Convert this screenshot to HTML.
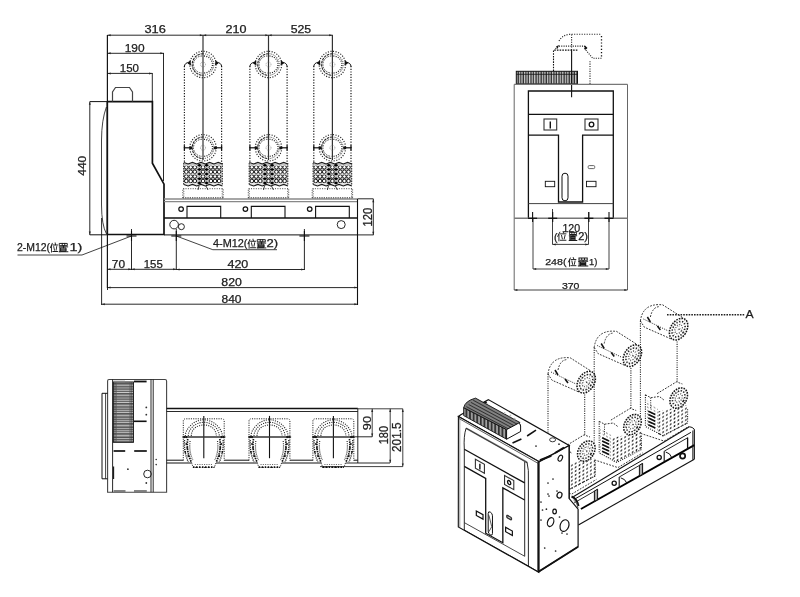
<!DOCTYPE html>
<html><head><meta charset="utf-8"><style>
html,body{margin:0;padding:0;background:#fff;}
svg{display:block;will-change:transform;}
text{font-family:"Liberation Sans",sans-serif;fill:#222;}
</style></head><body>
<svg width="800" height="597" viewBox="0 0 800 597">
<defs>
<pattern id="grid" width="4.7" height="4.5" patternUnits="userSpaceOnUse" x="0.6" y="165.6">
<circle cx="2.35" cy="2.25" r="1.8" fill="none" stroke="#222" stroke-width="0.9"/>
</pattern>
<pattern id="fins" width="2.55" height="20" patternUnits="userSpaceOnUse" x="516.3" y="0">
<rect width="2.55" height="20" fill="#7a7a7a"/><rect x="0.3" width="0.7" height="20" fill="#fff"/><rect x="1.55" width="0.75" height="20" fill="#111"/>
</pattern>
<pattern id="hfins" width="20" height="10.05" patternUnits="userSpaceOnUse" x="0" y="382">
<rect width="20" height="10.05" fill="#8a8a8a"/>
<rect y="0.4" width="20" height="0.8" fill="#fff"/><rect y="1.3" width="20" height="0.7" fill="#111"/>
<rect y="3.2" width="20" height="0.6" fill="#ddd"/><rect y="4.6" width="20" height="0.8" fill="#111"/>
<rect y="5.5" width="20" height="0.8" fill="#fff"/><rect y="6.4" width="20" height="0.6" fill="#111"/>
<rect y="8.3" width="20" height="0.6" fill="#ccc"/><rect y="9.3" width="20" height="0.5" fill="#333"/>
</pattern>
<pattern id="dots" width="3.8" height="3.8" patternUnits="userSpaceOnUse" patternTransform="skewY(-28)">
<ellipse cx="1.9" cy="1.9" rx="0.9" ry="1.05" fill="#1a1a1a"/>
</pattern>
<pattern id="dots2" width="3.4" height="3.4" patternUnits="userSpaceOnUse" patternTransform="skewY(28)">
<circle cx="1.7" cy="1.7" r="0.7" fill="#444"/>
</pattern>
<pattern id="isotop" width="40" height="1.7" patternUnits="userSpaceOnUse" patternTransform="rotate(28.5)">
<rect width="40" height="1.7" fill="#555"/><rect y="0.2" width="40" height="0.6" fill="#111"/><rect y="1.1" width="40" height="0.35" fill="#999"/>
</pattern>
<pattern id="isofins" width="3.6" height="40" patternUnits="userSpaceOnUse" x="463.7">
<rect width="3.6" height="40" fill="#555"/><rect x="0.3" width="1.3" height="40" fill="#bbb"/><rect x="2.2" width="0.9" height="40" fill="#111"/>
</pattern>
<g id="wei" fill="none" stroke="#1a1a1a" stroke-linecap="square">
<path d="M3,0.5 L0.6,5 M2,3.2 V10 M6.8,0 L7.3,1.3 M3.9,2.3 H10 M5,4 L5.9,7.8 M9,4 L8.1,7.8 M3.8,9.4 H10"/>
</g>
<g id="zhi" fill="none" stroke="#1a1a1a" stroke-linecap="square">
<path d="M0.8,0.5 H9.2 V3 H0.8 Z M3.6,0.5 V3 M6.4,0.5 V3 M0.4,4.3 H9.6 M5,3 V5.4 M2.3,5.5 H7.7 V9.3 H2.3 Z M2.3,6.8 H7.7 M2.3,8 H7.7 M0.2,9.7 H9.8 M1,5.2 V9.7"/>
</g>
<pattern id="discdots" width="2.6" height="2.6" patternUnits="userSpaceOnUse" patternTransform="rotate(30)">
<rect width="2.6" height="2.6" fill="#fff"/><circle cx="1.3" cy="1.3" r="0.5" fill="#999"/>
</pattern>
</defs>
<line x1="107.5" y1="35.2" x2="332.7" y2="35.2" stroke="#111" stroke-width="0.9" /><line x1="107.5" y1="53.3" x2="163.8" y2="53.3" stroke="#111" stroke-width="0.9" /><line x1="107.5" y1="73.4" x2="152.3" y2="73.4" stroke="#111" stroke-width="0.9" /><line x1="107.5" y1="35" x2="107.5" y2="290" stroke="#111" stroke-width="0.9" /><line x1="163.5" y1="53" x2="163.5" y2="181" stroke="#111" stroke-width="0.9" /><line x1="152.3" y1="73" x2="152.3" y2="101" stroke="#111" stroke-width="0.9" /><path d="M107.3,101.6 H152.4 V163.2 L164,184.2 V234.5 H107.3" stroke="#111" stroke-width="1.7" fill="none" /><line x1="89.8" y1="101.6" x2="107.3" y2="101.6" stroke="#111" stroke-width="1.0" /><line x1="89.8" y1="234.8" x2="107.3" y2="234.8" stroke="#111" stroke-width="1.0" /><line x1="89.8" y1="101.6" x2="89.8" y2="235" stroke="#111" stroke-width="0.9" /><line x1="107.3" y1="35" x2="107.3" y2="288" stroke="#111" stroke-width="1.0" /><line x1="107.3" y1="101.6" x2="107.3" y2="234.5" stroke="#111" stroke-width="1.7" /><path d="M112.5,101.6 V92 L115.5,87.5 H129.5 L132.5,92 V101.6" stroke="#444" stroke-width="1.2" fill="none" /><path d="M106.4,107 Q101.6,120 101.5,140 V205 Q101.6,225 106.5,234" stroke="#111" stroke-width="0.8" fill="none" /><line x1="101.6" y1="218" x2="101.6" y2="305" stroke="#111" stroke-width="0.9" /><line x1="164" y1="199" x2="357.5" y2="199" stroke="#888" stroke-width="1.3" /><line x1="164" y1="201.6" x2="357.5" y2="201.6" stroke="#888" stroke-width="1.3" /><line x1="164" y1="218" x2="357.5" y2="218" stroke="#111" stroke-width="1.3" /><line x1="164" y1="234.9" x2="357.5" y2="234.9" stroke="#111" stroke-width="1.0" /><line x1="357.5" y1="199" x2="357.5" y2="305" stroke="#111" stroke-width="1.1" /><line x1="357.5" y1="198.8" x2="373.5" y2="198.8" stroke="#111" stroke-width="0.9" /><line x1="357.5" y1="234.9" x2="373.5" y2="234.9" stroke="#111" stroke-width="0.9" /><line x1="373.3" y1="199" x2="373.3" y2="235" stroke="#111" stroke-width="0.9" /><circle cx="181.1" cy="209.1" r="2.3" stroke="#111" stroke-width="1.2" fill="none" /><path d="M187.0,218 V206.4 H220.7 V218" stroke="#111" stroke-width="1.1" fill="none" /><circle cx="245.39999999999998" cy="209.1" r="2.3" stroke="#111" stroke-width="1.2" fill="none" /><path d="M251.3,218 V206.4 H285.0 V218" stroke="#111" stroke-width="1.1" fill="none" /><circle cx="309.7" cy="209.1" r="2.3" stroke="#111" stroke-width="1.2" fill="none" /><path d="M315.6,218 V206.4 H349.29999999999995 V218" stroke="#111" stroke-width="1.1" fill="none" /><circle cx="174.1" cy="224.6" r="4.3" stroke="#111" stroke-width="0.9" fill="none" /><circle cx="181.4" cy="226.7" r="3" stroke="#111" stroke-width="0.9" fill="none" /><circle cx="341.2" cy="224.6" r="4" stroke="#111" stroke-width="0.9" fill="none" /><line x1="126.5" y1="236" x2="136.5" y2="236" stroke="#111" stroke-width="1.1" /><line x1="131.5" y1="231" x2="131.5" y2="241" stroke="#111" stroke-width="1.1" /><line x1="171.3" y1="236" x2="181.3" y2="236" stroke="#111" stroke-width="1.1" /><line x1="176.3" y1="231" x2="176.3" y2="241" stroke="#111" stroke-width="1.1" /><line x1="299.4" y1="236" x2="309.4" y2="236" stroke="#111" stroke-width="1.1" /><line x1="304.4" y1="231" x2="304.4" y2="241" stroke="#111" stroke-width="1.1" /><line x1="131.5" y1="229" x2="131.5" y2="270" stroke="#111" stroke-width="0.9" /><line x1="176.3" y1="229" x2="176.3" y2="270" stroke="#111" stroke-width="0.9" /><line x1="304.4" y1="229" x2="304.4" y2="270" stroke="#111" stroke-width="0.9" /><line x1="107.3" y1="269.3" x2="176.3" y2="269.3" stroke="#111" stroke-width="0.9" /><line x1="176.3" y1="269.5" x2="304.6" y2="269.5" stroke="#111" stroke-width="0.9" /><line x1="107.3" y1="287.6" x2="357" y2="287.6" stroke="#111" stroke-width="0.9" /><line x1="101.6" y1="304.2" x2="357.5" y2="304.2" stroke="#111" stroke-width="0.9" /><path d="M131.5,236 L82,255 H17.5" stroke="#111" stroke-width="0.8" fill="none" /><path d="M176.3,236 L212.8,249.7 H277" stroke="#111" stroke-width="0.8" fill="none" /><line x1="203" y1="35" x2="203" y2="160" stroke="#333" stroke-width="1.2" /><circle cx="203" cy="64.5" r="13.2" stroke="#222" stroke-width="1.15" fill="none" stroke-dasharray="1.1 1.5"/><path d="M203,53.7 A10.8 10.8 0 0 0 203,75.3" stroke="#222" stroke-width="1.1" fill="none" stroke-dasharray="2.5 0.8"/><path d="M203,53.7 A10.8 10.8 0 0 1 203,75.3" stroke="#333" stroke-width="1.0" fill="none" stroke-dasharray="1 1.2"/><path d="M202,56.0 A8.5 8.5 0 0 0 202,73.0" stroke="#333" stroke-width="0.9" fill="none" stroke-dasharray="1.6 1"/><path d="M204,56.0 A8.5 8.5 0 0 1 204,73.0" stroke="#222" stroke-width="1.3" fill="none" stroke-dasharray="1 1.3"/><circle cx="203" cy="64.5" r="2.5" stroke="#666" stroke-width="0.6" fill="none" stroke-dasharray="0.8 0.8"/><path d="M184.4,66.5 Q184.4,63.0 189.5,62.0" stroke="#111" stroke-width="1.0" fill="none" /><path d="M221.6,66.5 Q221.6,63.0 216.5,62.0" stroke="#111" stroke-width="1.0" fill="none" /><polygon points="187.5,63.5 190.5,60.0 191,65.5" fill="#111"/><polygon points="218.5,63.5 215.5,60.0 215,65.5" fill="#111"/><circle cx="203" cy="147.8" r="13.2" stroke="#222" stroke-width="1.15" fill="none" stroke-dasharray="1.1 1.5"/><path d="M203,137.0 A10.8 10.8 0 0 0 203,158.60000000000002" stroke="#222" stroke-width="1.1" fill="none" stroke-dasharray="2.5 0.8"/><path d="M203,137.0 A10.8 10.8 0 0 1 203,158.60000000000002" stroke="#333" stroke-width="1.0" fill="none" stroke-dasharray="1 1.2"/><path d="M202,139.3 A8.5 8.5 0 0 0 202,156.3" stroke="#333" stroke-width="0.9" fill="none" stroke-dasharray="1.6 1"/><path d="M204,139.3 A8.5 8.5 0 0 1 204,156.3" stroke="#222" stroke-width="1.3" fill="none" stroke-dasharray="1 1.3"/><circle cx="203" cy="147.8" r="2.5" stroke="#666" stroke-width="0.6" fill="none" stroke-dasharray="0.8 0.8"/><line x1="184.4" y1="147.8" x2="190.5" y2="147.8" stroke="#111" stroke-width="1.2" /><line x1="221.6" y1="147.8" x2="215.5" y2="147.8" stroke="#111" stroke-width="1.2" /><line x1="184.4" y1="145.3" x2="184.4" y2="150.3" stroke="#111" stroke-width="1.3" /><line x1="221.6" y1="145.3" x2="221.6" y2="150.3" stroke="#111" stroke-width="1.3" /><circle cx="190.7" cy="147.8" r="1.6" stroke="#111" stroke-width="0" fill="#111" /><circle cx="215.3" cy="147.8" r="1.6" stroke="#111" stroke-width="0" fill="#111" /><line x1="184.4" y1="66" x2="184.4" y2="162" stroke="#111" stroke-width="1.15" stroke-dasharray="1.2 1.5"/><line x1="221.6" y1="66" x2="221.6" y2="162" stroke="#111" stroke-width="1.15" stroke-dasharray="1.2 1.5"/><rect x="183.7" y="163.5" width="38.6" height="21" fill="#c4c4c4"/><circle cx="186.30" cy="167.3" r="1.8" fill="#fff" stroke="#111" stroke-width="1.0"/><circle cx="190.70" cy="167.3" r="1.8" fill="#fff" stroke="#111" stroke-width="1.0"/><circle cx="194.80" cy="167.3" r="1.8" fill="#fff" stroke="#111" stroke-width="1.0"/><circle cx="203.00" cy="167.3" r="1.8" fill="#fff" stroke="#111" stroke-width="1.0"/><circle cx="210.90" cy="167.3" r="1.8" fill="#fff" stroke="#111" stroke-width="1.0"/><circle cx="215.00" cy="167.3" r="1.8" fill="#fff" stroke="#111" stroke-width="1.0"/><circle cx="219.10" cy="167.3" r="1.8" fill="#fff" stroke="#111" stroke-width="1.0"/><circle cx="186.30" cy="171.8" r="1.8" fill="#fff" stroke="#111" stroke-width="1.0"/><circle cx="190.70" cy="171.8" r="1.8" fill="#fff" stroke="#111" stroke-width="1.0"/><circle cx="194.80" cy="171.8" r="1.8" fill="#fff" stroke="#111" stroke-width="1.0"/><circle cx="203.00" cy="171.8" r="1.8" fill="#fff" stroke="#111" stroke-width="1.0"/><circle cx="210.90" cy="171.8" r="1.8" fill="#fff" stroke="#111" stroke-width="1.0"/><circle cx="215.00" cy="171.8" r="1.8" fill="#fff" stroke="#111" stroke-width="1.0"/><circle cx="219.10" cy="171.8" r="1.8" fill="#fff" stroke="#111" stroke-width="1.0"/><circle cx="186.30" cy="176.5" r="1.8" fill="#fff" stroke="#111" stroke-width="1.0"/><circle cx="190.70" cy="176.5" r="1.8" fill="#fff" stroke="#111" stroke-width="1.0"/><circle cx="194.80" cy="176.5" r="1.8" fill="#fff" stroke="#111" stroke-width="1.0"/><circle cx="203.00" cy="176.5" r="1.8" fill="#fff" stroke="#111" stroke-width="1.0"/><circle cx="210.90" cy="176.5" r="1.8" fill="#fff" stroke="#111" stroke-width="1.0"/><circle cx="215.00" cy="176.5" r="1.8" fill="#fff" stroke="#111" stroke-width="1.0"/><circle cx="219.10" cy="176.5" r="1.8" fill="#fff" stroke="#111" stroke-width="1.0"/><circle cx="186.30" cy="181" r="1.8" fill="#fff" stroke="#111" stroke-width="1.0"/><circle cx="190.70" cy="181" r="1.8" fill="#fff" stroke="#111" stroke-width="1.0"/><circle cx="194.80" cy="181" r="1.8" fill="#fff" stroke="#111" stroke-width="1.0"/><circle cx="203.00" cy="181" r="1.8" fill="#fff" stroke="#111" stroke-width="1.0"/><circle cx="210.90" cy="181" r="1.8" fill="#fff" stroke="#111" stroke-width="1.0"/><circle cx="215.00" cy="181" r="1.8" fill="#fff" stroke="#111" stroke-width="1.0"/><circle cx="219.10" cy="181" r="1.8" fill="#fff" stroke="#111" stroke-width="1.0"/><line x1="183.7" y1="165.6" x2="222.3" y2="165.6" stroke="#fff" stroke-width="0.7" /><line x1="183.7" y1="174.1" x2="222.3" y2="174.1" stroke="#fff" stroke-width="0.7" /><line x1="183.7" y1="183.4" x2="222.3" y2="183.4" stroke="#fff" stroke-width="0.7" /><path d="M183.80,162.39999999999998 188.10,164.0 192.40,162.39999999999998 196.70,164.0 201.00,162.39999999999998 205.30,164.0 209.60,162.39999999999998 213.90,164.0 218.20,162.39999999999998 222.50,164.0" stroke="#1a1a1a" stroke-width="1.1" fill="none" /><path d="M183.80,184.39999999999998 188.10,186.0 192.40,184.39999999999998 196.70,186.0 201.00,184.39999999999998 205.30,186.0 209.60,184.39999999999998 213.90,186.0 218.20,184.39999999999998 222.50,186.0" stroke="#1a1a1a" stroke-width="1.1" fill="none" /><polygon points="197.00,165.2 199.40,163.7 201.80,165.2 199.40,166.7" fill="#000"/><polygon points="204.20,165.2 206.60,163.7 209.00,165.2 206.60,166.7" fill="#000"/><polygon points="197.00,169.5 199.40,168.0 201.80,169.5 199.40,171.0" fill="#000"/><polygon points="204.20,169.5 206.60,168.0 209.00,169.5 206.60,171.0" fill="#000"/><polygon points="197.00,174.1 199.40,172.6 201.80,174.1 199.40,175.6" fill="#000"/><polygon points="204.20,174.1 206.60,172.6 209.00,174.1 206.60,175.6" fill="#000"/><polygon points="197.00,178.8 199.40,177.3 201.80,178.8 199.40,180.3" fill="#000"/><polygon points="204.20,178.8 206.60,177.3 209.00,178.8 206.60,180.3" fill="#000"/><polygon points="197.00,183.1 199.40,181.6 201.80,183.1 199.40,184.6" fill="#000"/><polygon points="204.20,183.1 206.60,181.6 209.00,183.1 206.60,184.6" fill="#000"/><line x1="183.7" y1="163" x2="183.7" y2="185.5" stroke="#222" stroke-width="1.0" stroke-dasharray="1.5 1"/><line x1="222.3" y1="163" x2="222.3" y2="185.5" stroke="#222" stroke-width="1.0" stroke-dasharray="1.5 1"/><path d="M182.8,198 V188.7 H223.2 V198" stroke="#333" stroke-width="0.9" fill="none" stroke-dasharray="1 1.4"/><line x1="183.8" y1="188.5" x2="183.8" y2="198" stroke="#444" stroke-width="0.9" stroke-dasharray="1 1.4"/><line x1="222.2" y1="188.5" x2="222.2" y2="198" stroke="#444" stroke-width="0.9" stroke-dasharray="1 1.4"/><path d="M199,186 L198,190" stroke="#111" stroke-width="0.8" fill="none" /><path d="M206,186 L208,190" stroke="#111" stroke-width="0.8" fill="none" /><line x1="182.8" y1="197.8" x2="223.2" y2="197.8" stroke="#333" stroke-width="1.0" stroke-dasharray="1.3 1"/><line x1="268.5" y1="35" x2="268.5" y2="160" stroke="#333" stroke-width="1.2" /><circle cx="268.5" cy="64.5" r="13.2" stroke="#222" stroke-width="1.15" fill="none" stroke-dasharray="1.1 1.5"/><path d="M268.5,53.7 A10.8 10.8 0 0 0 268.5,75.3" stroke="#222" stroke-width="1.1" fill="none" stroke-dasharray="2.5 0.8"/><path d="M268.5,53.7 A10.8 10.8 0 0 1 268.5,75.3" stroke="#333" stroke-width="1.0" fill="none" stroke-dasharray="1 1.2"/><path d="M267.5,56.0 A8.5 8.5 0 0 0 267.5,73.0" stroke="#333" stroke-width="0.9" fill="none" stroke-dasharray="1.6 1"/><path d="M269.5,56.0 A8.5 8.5 0 0 1 269.5,73.0" stroke="#222" stroke-width="1.3" fill="none" stroke-dasharray="1 1.3"/><circle cx="268.5" cy="64.5" r="2.5" stroke="#666" stroke-width="0.6" fill="none" stroke-dasharray="0.8 0.8"/><path d="M249.9,66.5 Q249.9,63.0 255.0,62.0" stroke="#111" stroke-width="1.0" fill="none" /><path d="M287.1,66.5 Q287.1,63.0 282.0,62.0" stroke="#111" stroke-width="1.0" fill="none" /><polygon points="253.0,63.5 256.0,60.0 256.5,65.5" fill="#111"/><polygon points="284.0,63.5 281.0,60.0 280.5,65.5" fill="#111"/><circle cx="268.5" cy="147.8" r="13.2" stroke="#222" stroke-width="1.15" fill="none" stroke-dasharray="1.1 1.5"/><path d="M268.5,137.0 A10.8 10.8 0 0 0 268.5,158.60000000000002" stroke="#222" stroke-width="1.1" fill="none" stroke-dasharray="2.5 0.8"/><path d="M268.5,137.0 A10.8 10.8 0 0 1 268.5,158.60000000000002" stroke="#333" stroke-width="1.0" fill="none" stroke-dasharray="1 1.2"/><path d="M267.5,139.3 A8.5 8.5 0 0 0 267.5,156.3" stroke="#333" stroke-width="0.9" fill="none" stroke-dasharray="1.6 1"/><path d="M269.5,139.3 A8.5 8.5 0 0 1 269.5,156.3" stroke="#222" stroke-width="1.3" fill="none" stroke-dasharray="1 1.3"/><circle cx="268.5" cy="147.8" r="2.5" stroke="#666" stroke-width="0.6" fill="none" stroke-dasharray="0.8 0.8"/><line x1="249.9" y1="147.8" x2="256.0" y2="147.8" stroke="#111" stroke-width="1.2" /><line x1="287.1" y1="147.8" x2="281.0" y2="147.8" stroke="#111" stroke-width="1.2" /><line x1="249.9" y1="145.3" x2="249.9" y2="150.3" stroke="#111" stroke-width="1.3" /><line x1="287.1" y1="145.3" x2="287.1" y2="150.3" stroke="#111" stroke-width="1.3" /><circle cx="256.2" cy="147.8" r="1.6" stroke="#111" stroke-width="0" fill="#111" /><circle cx="280.8" cy="147.8" r="1.6" stroke="#111" stroke-width="0" fill="#111" /><line x1="249.9" y1="66" x2="249.9" y2="162" stroke="#111" stroke-width="1.15" stroke-dasharray="1.2 1.5"/><line x1="287.1" y1="66" x2="287.1" y2="162" stroke="#111" stroke-width="1.15" stroke-dasharray="1.2 1.5"/><rect x="249.2" y="163.5" width="38.6" height="21" fill="#c4c4c4"/><circle cx="251.80" cy="167.3" r="1.8" fill="#fff" stroke="#111" stroke-width="1.0"/><circle cx="256.20" cy="167.3" r="1.8" fill="#fff" stroke="#111" stroke-width="1.0"/><circle cx="260.30" cy="167.3" r="1.8" fill="#fff" stroke="#111" stroke-width="1.0"/><circle cx="268.50" cy="167.3" r="1.8" fill="#fff" stroke="#111" stroke-width="1.0"/><circle cx="276.40" cy="167.3" r="1.8" fill="#fff" stroke="#111" stroke-width="1.0"/><circle cx="280.50" cy="167.3" r="1.8" fill="#fff" stroke="#111" stroke-width="1.0"/><circle cx="284.60" cy="167.3" r="1.8" fill="#fff" stroke="#111" stroke-width="1.0"/><circle cx="251.80" cy="171.8" r="1.8" fill="#fff" stroke="#111" stroke-width="1.0"/><circle cx="256.20" cy="171.8" r="1.8" fill="#fff" stroke="#111" stroke-width="1.0"/><circle cx="260.30" cy="171.8" r="1.8" fill="#fff" stroke="#111" stroke-width="1.0"/><circle cx="268.50" cy="171.8" r="1.8" fill="#fff" stroke="#111" stroke-width="1.0"/><circle cx="276.40" cy="171.8" r="1.8" fill="#fff" stroke="#111" stroke-width="1.0"/><circle cx="280.50" cy="171.8" r="1.8" fill="#fff" stroke="#111" stroke-width="1.0"/><circle cx="284.60" cy="171.8" r="1.8" fill="#fff" stroke="#111" stroke-width="1.0"/><circle cx="251.80" cy="176.5" r="1.8" fill="#fff" stroke="#111" stroke-width="1.0"/><circle cx="256.20" cy="176.5" r="1.8" fill="#fff" stroke="#111" stroke-width="1.0"/><circle cx="260.30" cy="176.5" r="1.8" fill="#fff" stroke="#111" stroke-width="1.0"/><circle cx="268.50" cy="176.5" r="1.8" fill="#fff" stroke="#111" stroke-width="1.0"/><circle cx="276.40" cy="176.5" r="1.8" fill="#fff" stroke="#111" stroke-width="1.0"/><circle cx="280.50" cy="176.5" r="1.8" fill="#fff" stroke="#111" stroke-width="1.0"/><circle cx="284.60" cy="176.5" r="1.8" fill="#fff" stroke="#111" stroke-width="1.0"/><circle cx="251.80" cy="181" r="1.8" fill="#fff" stroke="#111" stroke-width="1.0"/><circle cx="256.20" cy="181" r="1.8" fill="#fff" stroke="#111" stroke-width="1.0"/><circle cx="260.30" cy="181" r="1.8" fill="#fff" stroke="#111" stroke-width="1.0"/><circle cx="268.50" cy="181" r="1.8" fill="#fff" stroke="#111" stroke-width="1.0"/><circle cx="276.40" cy="181" r="1.8" fill="#fff" stroke="#111" stroke-width="1.0"/><circle cx="280.50" cy="181" r="1.8" fill="#fff" stroke="#111" stroke-width="1.0"/><circle cx="284.60" cy="181" r="1.8" fill="#fff" stroke="#111" stroke-width="1.0"/><line x1="249.2" y1="165.6" x2="287.8" y2="165.6" stroke="#fff" stroke-width="0.7" /><line x1="249.2" y1="174.1" x2="287.8" y2="174.1" stroke="#fff" stroke-width="0.7" /><line x1="249.2" y1="183.4" x2="287.8" y2="183.4" stroke="#fff" stroke-width="0.7" /><path d="M249.30,162.39999999999998 253.60,164.0 257.90,162.39999999999998 262.20,164.0 266.50,162.39999999999998 270.80,164.0 275.10,162.39999999999998 279.40,164.0 283.70,162.39999999999998 288.00,164.0" stroke="#1a1a1a" stroke-width="1.1" fill="none" /><path d="M249.30,184.39999999999998 253.60,186.0 257.90,184.39999999999998 262.20,186.0 266.50,184.39999999999998 270.80,186.0 275.10,184.39999999999998 279.40,186.0 283.70,184.39999999999998 288.00,186.0" stroke="#1a1a1a" stroke-width="1.1" fill="none" /><polygon points="262.50,165.2 264.90,163.7 267.30,165.2 264.90,166.7" fill="#000"/><polygon points="269.70,165.2 272.10,163.7 274.50,165.2 272.10,166.7" fill="#000"/><polygon points="262.50,169.5 264.90,168.0 267.30,169.5 264.90,171.0" fill="#000"/><polygon points="269.70,169.5 272.10,168.0 274.50,169.5 272.10,171.0" fill="#000"/><polygon points="262.50,174.1 264.90,172.6 267.30,174.1 264.90,175.6" fill="#000"/><polygon points="269.70,174.1 272.10,172.6 274.50,174.1 272.10,175.6" fill="#000"/><polygon points="262.50,178.8 264.90,177.3 267.30,178.8 264.90,180.3" fill="#000"/><polygon points="269.70,178.8 272.10,177.3 274.50,178.8 272.10,180.3" fill="#000"/><polygon points="262.50,183.1 264.90,181.6 267.30,183.1 264.90,184.6" fill="#000"/><polygon points="269.70,183.1 272.10,181.6 274.50,183.1 272.10,184.6" fill="#000"/><line x1="249.2" y1="163" x2="249.2" y2="185.5" stroke="#222" stroke-width="1.0" stroke-dasharray="1.5 1"/><line x1="287.8" y1="163" x2="287.8" y2="185.5" stroke="#222" stroke-width="1.0" stroke-dasharray="1.5 1"/><path d="M248.3,198 V188.7 H288.7 V198" stroke="#333" stroke-width="0.9" fill="none" stroke-dasharray="1 1.4"/><line x1="249.3" y1="188.5" x2="249.3" y2="198" stroke="#444" stroke-width="0.9" stroke-dasharray="1 1.4"/><line x1="287.7" y1="188.5" x2="287.7" y2="198" stroke="#444" stroke-width="0.9" stroke-dasharray="1 1.4"/><path d="M264.5,186 L263.5,190" stroke="#111" stroke-width="0.8" fill="none" /><path d="M271.5,186 L273.5,190" stroke="#111" stroke-width="0.8" fill="none" /><line x1="248.3" y1="197.8" x2="288.7" y2="197.8" stroke="#333" stroke-width="1.0" stroke-dasharray="1.3 1"/><line x1="332.4" y1="35" x2="332.4" y2="160" stroke="#333" stroke-width="1.2" /><circle cx="332.4" cy="64.5" r="13.2" stroke="#222" stroke-width="1.15" fill="none" stroke-dasharray="1.1 1.5"/><path d="M332.4,53.7 A10.8 10.8 0 0 0 332.4,75.3" stroke="#222" stroke-width="1.1" fill="none" stroke-dasharray="2.5 0.8"/><path d="M332.4,53.7 A10.8 10.8 0 0 1 332.4,75.3" stroke="#333" stroke-width="1.0" fill="none" stroke-dasharray="1 1.2"/><path d="M331.4,56.0 A8.5 8.5 0 0 0 331.4,73.0" stroke="#333" stroke-width="0.9" fill="none" stroke-dasharray="1.6 1"/><path d="M333.4,56.0 A8.5 8.5 0 0 1 333.4,73.0" stroke="#222" stroke-width="1.3" fill="none" stroke-dasharray="1 1.3"/><circle cx="332.4" cy="64.5" r="2.5" stroke="#666" stroke-width="0.6" fill="none" stroke-dasharray="0.8 0.8"/><path d="M313.79999999999995,66.5 Q313.79999999999995,63.0 318.9,62.0" stroke="#111" stroke-width="1.0" fill="none" /><path d="M351.0,66.5 Q351.0,63.0 345.9,62.0" stroke="#111" stroke-width="1.0" fill="none" /><polygon points="316.9,63.5 319.9,60.0 320.4,65.5" fill="#111"/><polygon points="347.9,63.5 344.9,60.0 344.4,65.5" fill="#111"/><circle cx="332.4" cy="147.8" r="13.2" stroke="#222" stroke-width="1.15" fill="none" stroke-dasharray="1.1 1.5"/><path d="M332.4,137.0 A10.8 10.8 0 0 0 332.4,158.60000000000002" stroke="#222" stroke-width="1.1" fill="none" stroke-dasharray="2.5 0.8"/><path d="M332.4,137.0 A10.8 10.8 0 0 1 332.4,158.60000000000002" stroke="#333" stroke-width="1.0" fill="none" stroke-dasharray="1 1.2"/><path d="M331.4,139.3 A8.5 8.5 0 0 0 331.4,156.3" stroke="#333" stroke-width="0.9" fill="none" stroke-dasharray="1.6 1"/><path d="M333.4,139.3 A8.5 8.5 0 0 1 333.4,156.3" stroke="#222" stroke-width="1.3" fill="none" stroke-dasharray="1 1.3"/><circle cx="332.4" cy="147.8" r="2.5" stroke="#666" stroke-width="0.6" fill="none" stroke-dasharray="0.8 0.8"/><line x1="313.79999999999995" y1="147.8" x2="319.9" y2="147.8" stroke="#111" stroke-width="1.2" /><line x1="351.0" y1="147.8" x2="344.9" y2="147.8" stroke="#111" stroke-width="1.2" /><line x1="313.79999999999995" y1="145.3" x2="313.79999999999995" y2="150.3" stroke="#111" stroke-width="1.3" /><line x1="351.0" y1="145.3" x2="351.0" y2="150.3" stroke="#111" stroke-width="1.3" /><circle cx="320.09999999999997" cy="147.8" r="1.6" stroke="#111" stroke-width="0" fill="#111" /><circle cx="344.7" cy="147.8" r="1.6" stroke="#111" stroke-width="0" fill="#111" /><line x1="313.79999999999995" y1="66" x2="313.79999999999995" y2="162" stroke="#111" stroke-width="1.15" stroke-dasharray="1.2 1.5"/><line x1="351.0" y1="66" x2="351.0" y2="162" stroke="#111" stroke-width="1.15" stroke-dasharray="1.2 1.5"/><rect x="313.09999999999997" y="163.5" width="38.6" height="21" fill="#c4c4c4"/><circle cx="315.70" cy="167.3" r="1.8" fill="#fff" stroke="#111" stroke-width="1.0"/><circle cx="320.10" cy="167.3" r="1.8" fill="#fff" stroke="#111" stroke-width="1.0"/><circle cx="324.20" cy="167.3" r="1.8" fill="#fff" stroke="#111" stroke-width="1.0"/><circle cx="332.40" cy="167.3" r="1.8" fill="#fff" stroke="#111" stroke-width="1.0"/><circle cx="340.30" cy="167.3" r="1.8" fill="#fff" stroke="#111" stroke-width="1.0"/><circle cx="344.40" cy="167.3" r="1.8" fill="#fff" stroke="#111" stroke-width="1.0"/><circle cx="348.50" cy="167.3" r="1.8" fill="#fff" stroke="#111" stroke-width="1.0"/><circle cx="315.70" cy="171.8" r="1.8" fill="#fff" stroke="#111" stroke-width="1.0"/><circle cx="320.10" cy="171.8" r="1.8" fill="#fff" stroke="#111" stroke-width="1.0"/><circle cx="324.20" cy="171.8" r="1.8" fill="#fff" stroke="#111" stroke-width="1.0"/><circle cx="332.40" cy="171.8" r="1.8" fill="#fff" stroke="#111" stroke-width="1.0"/><circle cx="340.30" cy="171.8" r="1.8" fill="#fff" stroke="#111" stroke-width="1.0"/><circle cx="344.40" cy="171.8" r="1.8" fill="#fff" stroke="#111" stroke-width="1.0"/><circle cx="348.50" cy="171.8" r="1.8" fill="#fff" stroke="#111" stroke-width="1.0"/><circle cx="315.70" cy="176.5" r="1.8" fill="#fff" stroke="#111" stroke-width="1.0"/><circle cx="320.10" cy="176.5" r="1.8" fill="#fff" stroke="#111" stroke-width="1.0"/><circle cx="324.20" cy="176.5" r="1.8" fill="#fff" stroke="#111" stroke-width="1.0"/><circle cx="332.40" cy="176.5" r="1.8" fill="#fff" stroke="#111" stroke-width="1.0"/><circle cx="340.30" cy="176.5" r="1.8" fill="#fff" stroke="#111" stroke-width="1.0"/><circle cx="344.40" cy="176.5" r="1.8" fill="#fff" stroke="#111" stroke-width="1.0"/><circle cx="348.50" cy="176.5" r="1.8" fill="#fff" stroke="#111" stroke-width="1.0"/><circle cx="315.70" cy="181" r="1.8" fill="#fff" stroke="#111" stroke-width="1.0"/><circle cx="320.10" cy="181" r="1.8" fill="#fff" stroke="#111" stroke-width="1.0"/><circle cx="324.20" cy="181" r="1.8" fill="#fff" stroke="#111" stroke-width="1.0"/><circle cx="332.40" cy="181" r="1.8" fill="#fff" stroke="#111" stroke-width="1.0"/><circle cx="340.30" cy="181" r="1.8" fill="#fff" stroke="#111" stroke-width="1.0"/><circle cx="344.40" cy="181" r="1.8" fill="#fff" stroke="#111" stroke-width="1.0"/><circle cx="348.50" cy="181" r="1.8" fill="#fff" stroke="#111" stroke-width="1.0"/><line x1="313.09999999999997" y1="165.6" x2="351.7" y2="165.6" stroke="#fff" stroke-width="0.7" /><line x1="313.09999999999997" y1="174.1" x2="351.7" y2="174.1" stroke="#fff" stroke-width="0.7" /><line x1="313.09999999999997" y1="183.4" x2="351.7" y2="183.4" stroke="#fff" stroke-width="0.7" /><path d="M313.20,162.39999999999998 317.50,164.0 321.80,162.39999999999998 326.10,164.0 330.40,162.39999999999998 334.70,164.0 339.00,162.39999999999998 343.30,164.0 347.60,162.39999999999998 351.90,164.0" stroke="#1a1a1a" stroke-width="1.1" fill="none" /><path d="M313.20,184.39999999999998 317.50,186.0 321.80,184.39999999999998 326.10,186.0 330.40,184.39999999999998 334.70,186.0 339.00,184.39999999999998 343.30,186.0 347.60,184.39999999999998 351.90,186.0" stroke="#1a1a1a" stroke-width="1.1" fill="none" /><polygon points="326.40,165.2 328.80,163.7 331.20,165.2 328.80,166.7" fill="#000"/><polygon points="333.60,165.2 336.00,163.7 338.40,165.2 336.00,166.7" fill="#000"/><polygon points="326.40,169.5 328.80,168.0 331.20,169.5 328.80,171.0" fill="#000"/><polygon points="333.60,169.5 336.00,168.0 338.40,169.5 336.00,171.0" fill="#000"/><polygon points="326.40,174.1 328.80,172.6 331.20,174.1 328.80,175.6" fill="#000"/><polygon points="333.60,174.1 336.00,172.6 338.40,174.1 336.00,175.6" fill="#000"/><polygon points="326.40,178.8 328.80,177.3 331.20,178.8 328.80,180.3" fill="#000"/><polygon points="333.60,178.8 336.00,177.3 338.40,178.8 336.00,180.3" fill="#000"/><polygon points="326.40,183.1 328.80,181.6 331.20,183.1 328.80,184.6" fill="#000"/><polygon points="333.60,183.1 336.00,181.6 338.40,183.1 336.00,184.6" fill="#000"/><line x1="313.09999999999997" y1="163" x2="313.09999999999997" y2="185.5" stroke="#222" stroke-width="1.0" stroke-dasharray="1.5 1"/><line x1="351.7" y1="163" x2="351.7" y2="185.5" stroke="#222" stroke-width="1.0" stroke-dasharray="1.5 1"/><path d="M312.2,198 V188.7 H352.59999999999997 V198" stroke="#333" stroke-width="0.9" fill="none" stroke-dasharray="1 1.4"/><line x1="313.2" y1="188.5" x2="313.2" y2="198" stroke="#444" stroke-width="0.9" stroke-dasharray="1 1.4"/><line x1="351.59999999999997" y1="188.5" x2="351.59999999999997" y2="198" stroke="#444" stroke-width="0.9" stroke-dasharray="1 1.4"/><path d="M328.4,186 L327.4,190" stroke="#111" stroke-width="0.8" fill="none" /><path d="M335.4,186 L337.4,190" stroke="#111" stroke-width="0.8" fill="none" /><line x1="312.2" y1="197.8" x2="352.59999999999997" y2="197.8" stroke="#333" stroke-width="1.0" stroke-dasharray="1.3 1"/><rect x="516.3" y="71.3" width="61.2" height="12.6" stroke="#111" stroke-width="1.0" fill="url(#fins)" /><line x1="516.3" y1="74.3" x2="577.5" y2="74.3" stroke="#111" stroke-width="0.8" /><path d="M553.5,71 V50.1 H578" stroke="#111" stroke-width="1.1" fill="none" stroke-dasharray="1.6 1.1"/><path d="M555.5,49 L558.5,46.1 H584 L586.5,48.5" stroke="#222" stroke-width="1.1" fill="none" stroke-dasharray="1.1 1.2"/><path d="M559,41 Q562,35 570,34.3 H601.5" stroke="#222" stroke-width="1.1" fill="none" stroke-dasharray="1.1 1.4"/><path d="M601.5,58.2 H592.7 L584.2,48.1" stroke="#222" stroke-width="1.1" fill="none" stroke-dasharray="1.1 1.2"/><polygon points="584.5,45 587.5,48 585,50" fill="#111"/><polygon points="556,46.5 559,45 557.5,49" fill="#111"/><line x1="601.5" y1="36" x2="601.5" y2="58" stroke="#111" stroke-width="1.3" stroke-dasharray="1.2 2"/><line x1="590" y1="61.2" x2="590" y2="84" stroke="#222" stroke-width="1.1" stroke-dasharray="1.1 1.3"/><line x1="571.6" y1="34.5" x2="571.6" y2="50" stroke="#222" stroke-width="1.1" stroke-dasharray="1.1 1.3"/><line x1="571.6" y1="50" x2="571.6" y2="97.3" stroke="#111" stroke-width="1.1" /><line x1="514.2" y1="84.4" x2="627.5" y2="84.4" stroke="#777" stroke-width="1.1" /><line x1="514.2" y1="84.4" x2="514.2" y2="290" stroke="#666" stroke-width="1.0" /><line x1="627.5" y1="84.4" x2="627.5" y2="290" stroke="#666" stroke-width="1.0" /><path d="M528.4,218 V91 H613.3 V218" stroke="#111" stroke-width="1.3" fill="none" /><line x1="528.4" y1="114.4" x2="613.3" y2="114.4" stroke="#111" stroke-width="1.3" /><path d="M528.4,135.2 H558.5 V202 H582.6 V135.2 H613.3" stroke="#111" stroke-width="1.3" fill="none" /><line x1="528.4" y1="203.6" x2="613.3" y2="203.6" stroke="#444" stroke-width="1.0" /><line x1="514.2" y1="218.3" x2="627.5" y2="218.3" stroke="#777" stroke-width="1.4" /><rect x="544" y="119" width="12.7" height="11" stroke="#333" stroke-width="1.1" fill="none" /><line x1="550.3" y1="121.5" x2="550.3" y2="128.5" stroke="#111" stroke-width="1.4" /><rect x="585" y="119" width="13" height="11" stroke="#333" stroke-width="1.1" fill="none" /><circle cx="591.5" cy="124.5" r="2.3" stroke="#111" stroke-width="1.3" fill="none" /><rect x="562" y="173.2" width="6" height="27.6" stroke="#111" stroke-width="1.0" fill="none" rx="3"/><rect x="545.3" y="181.3" width="9.4" height="5.4" stroke="#111" stroke-width="0.9" fill="none" /><rect x="586.5" y="181.3" width="9.5" height="5.4" stroke="#111" stroke-width="0.9" fill="none" /><rect x="588.2" y="165.6" width="6.5" height="3" stroke="#555" stroke-width="0.9" fill="none" rx="1"/><line x1="528.1" y1="218.3" x2="537.1" y2="218.3" stroke="#111" stroke-width="1.3" /><line x1="532.6" y1="212" x2="532.6" y2="222" stroke="#111" stroke-width="1.1" /><line x1="548.2" y1="218.3" x2="557.2" y2="218.3" stroke="#111" stroke-width="1.3" /><line x1="552.7" y1="212" x2="552.7" y2="222" stroke="#111" stroke-width="1.1" /><line x1="584.4" y1="218.3" x2="593.4" y2="218.3" stroke="#111" stroke-width="1.3" /><line x1="588.9" y1="212" x2="588.9" y2="222" stroke="#111" stroke-width="1.1" /><line x1="604.5" y1="218.3" x2="613.5" y2="218.3" stroke="#111" stroke-width="1.3" /><line x1="609" y1="212" x2="609" y2="222" stroke="#111" stroke-width="1.1" /><line x1="533" y1="218" x2="533" y2="269" stroke="#111" stroke-width="0.8" /><line x1="609" y1="218" x2="609" y2="269" stroke="#111" stroke-width="0.8" /><line x1="552.5" y1="209" x2="552.5" y2="244.5" stroke="#111" stroke-width="0.8" /><line x1="588.5" y1="212" x2="588.5" y2="244.5" stroke="#111" stroke-width="0.8" /><line x1="552.5" y1="244.4" x2="588.5" y2="244.4" stroke="#111" stroke-width="0.8" /><line x1="533" y1="269" x2="609" y2="269" stroke="#111" stroke-width="0.8" /><line x1="514.2" y1="290" x2="627.5" y2="290" stroke="#111" stroke-width="0.8" /><path d="M107.6,492.2 V381 Q107.6,379.5 109,379.5 H165 Q166.6,379.5 166.6,381 V492.2 Z" stroke="#444" stroke-width="1.1" fill="none" /><path d="M107.6,393.3 H102 V478.8 H107.6" stroke="#111" stroke-width="1.0" fill="none" /><line x1="105.6" y1="393.3" x2="105.6" y2="478.8" stroke="#111" stroke-width="0.8" /><line x1="112.6" y1="379.5" x2="112.6" y2="492.2" stroke="#111" stroke-width="0.9" /><line x1="151" y1="379.5" x2="151" y2="492.2" stroke="#111" stroke-width="0.9" /><line x1="153.2" y1="379.5" x2="153.2" y2="492.2" stroke="#111" stroke-width="0.9" /><rect x="113.3" y="382" width="20.1" height="60.3" stroke="#111" stroke-width="1.0" fill="url(#hfins)" /><line x1="115" y1="382" x2="115" y2="442" stroke="#333" stroke-width="0.6" /><line x1="116.5" y1="382" x2="116.5" y2="442" stroke="#555" stroke-width="0.5" /><line x1="131.2" y1="382" x2="131.2" y2="442" stroke="#333" stroke-width="0.6" /><line x1="129.8" y1="382" x2="129.8" y2="442" stroke="#555" stroke-width="0.5" /><line x1="113.5" y1="381.5" x2="125" y2="381.5" stroke="#888" stroke-width="1.6" /><line x1="134" y1="381.5" x2="146.6" y2="381.5" stroke="#111" stroke-width="1.8" /><line x1="134" y1="421.3" x2="146.6" y2="421.3" stroke="#111" stroke-width="1.6" /><line x1="113.6" y1="451" x2="125.2" y2="451" stroke="#111" stroke-width="1.7" /><line x1="134.2" y1="451" x2="146.8" y2="451" stroke="#111" stroke-width="1.7" /><line x1="113.6" y1="491" x2="125.5" y2="491" stroke="#777" stroke-width="1.8" /><line x1="134" y1="491" x2="146.8" y2="491" stroke="#777" stroke-width="1.8" /><circle cx="146.3" cy="407.4" r="0.9" stroke="#111" stroke-width="0" fill="#333" /><circle cx="146.3" cy="414.7" r="0.9" stroke="#111" stroke-width="0" fill="#333" /><circle cx="156.2" cy="459.5" r="0.8" stroke="#111" stroke-width="0" fill="#333" /><circle cx="156.2" cy="464.6" r="0.8" stroke="#111" stroke-width="0" fill="#333" /><circle cx="127.9" cy="469.2" r="0.9" stroke="#111" stroke-width="0" fill="#333" /><circle cx="146.3" cy="483" r="0.9" stroke="#111" stroke-width="0" fill="#333" /><circle cx="147.5" cy="474" r="3.8" stroke="#111" stroke-width="0.9" fill="none" /><line x1="113.6" y1="466.5" x2="113.6" y2="479" stroke="#111" stroke-width="1.1" /><line x1="166.6" y1="408.5" x2="357.8" y2="408.5" stroke="#111" stroke-width="1.3" /><line x1="166.6" y1="411.5" x2="357.8" y2="411.5" stroke="#111" stroke-width="0.9" /><line x1="357.8" y1="408.5" x2="357.8" y2="463" stroke="#111" stroke-width="0.9" /><line x1="203.8" y1="415.9" x2="203.8" y2="458.2" stroke="#111" stroke-width="1.1" /><line x1="182.4" y1="437.1" x2="225.4" y2="437.1" stroke="#333" stroke-width="1.5" /><circle cx="184.3" cy="437.1" r="1.1" stroke="#111" stroke-width="0" fill="#111" /><circle cx="186.3" cy="437.1" r="1.1" stroke="#111" stroke-width="0" fill="#111" /><circle cx="221.5" cy="437.1" r="1.1" stroke="#111" stroke-width="0" fill="#111" /><circle cx="223.5" cy="437.1" r="1.1" stroke="#111" stroke-width="0" fill="#111" /><path d="M183.3,460.5 V421 Q183.3,418.8 185.8,418.8 H221.8 Q224.20000000000002,418.8 224.20000000000002,421 V460.5" stroke="#222" stroke-width="1.0" fill="none" stroke-dasharray="1.1 1.2"/><path d="M185.30,436 C185.30,429 193.62,419.80 203.80,419.80 C213.98,419.80 222.30,429 222.30,436" stroke="#222" stroke-width="1.05" fill="none" stroke-dasharray="1.1 1.2"/><path d="M188.30,436 C188.30,429 195.28,422.30 203.80,422.30 C212.33,422.30 219.30,429 219.30,436" stroke="#222" stroke-width="1.05" fill="none" stroke-dasharray="1.1 1.2"/><path d="M191.30,436 C191.30,429 196.93,425.00 203.80,425.00 C210.68,425.00 216.30,429 216.30,436" stroke="#222" stroke-width="1.05" fill="none" stroke-dasharray="1.1 1.2"/><path d="M187.8,439 Q185.8,450 191.3,462" stroke="#111" stroke-width="1.7" fill="none" stroke-dasharray="1.5 0.9"/><path d="M184.5,440 Q183.8,452 188.3,462" stroke="#222" stroke-width="1.4" fill="none" stroke-dasharray="1.2 1"/><path d="M190.10000000000002,441 Q188.8,452 192.8,460" stroke="#333" stroke-width="1.2" fill="none" stroke-dasharray="1 1.1"/><circle cx="186.3" cy="444" r="0.9" stroke="#111" stroke-width="0" fill="#111" /><circle cx="187.3" cy="448" r="0.9" stroke="#111" stroke-width="0" fill="#111" /><circle cx="185.3" cy="452" r="0.9" stroke="#111" stroke-width="0" fill="#111" /><circle cx="188.3" cy="456" r="0.9" stroke="#111" stroke-width="0" fill="#111" /><path d="M219.8,439 Q221.8,450 216.3,462" stroke="#111" stroke-width="1.7" fill="none" stroke-dasharray="1.5 0.9"/><path d="M223.10000000000002,440 Q223.8,452 219.3,462" stroke="#222" stroke-width="1.4" fill="none" stroke-dasharray="1.2 1"/><path d="M217.5,441 Q218.8,452 214.8,460" stroke="#333" stroke-width="1.2" fill="none" stroke-dasharray="1 1.1"/><circle cx="221.3" cy="444" r="0.9" stroke="#111" stroke-width="0" fill="#111" /><circle cx="220.3" cy="448" r="0.9" stroke="#111" stroke-width="0" fill="#111" /><circle cx="222.3" cy="452" r="0.9" stroke="#111" stroke-width="0" fill="#111" /><circle cx="219.3" cy="456" r="0.9" stroke="#111" stroke-width="0" fill="#111" /><path d="M191.60000000000002,462.5 L193.0,467.4 H214.4 L216.0,462.5" stroke="#222" stroke-width="1.0" fill="none" stroke-dasharray="1.1 1.2"/><line x1="193.0" y1="467.2" x2="214.4" y2="467.2" stroke="#111" stroke-width="1.8" stroke-dasharray="1.5 1.5"/><line x1="194.8" y1="464.5" x2="212.8" y2="464.5" stroke="#444" stroke-width="0.8" stroke-dasharray="1.1 1.2"/><line x1="269.5" y1="415.9" x2="269.5" y2="458.2" stroke="#111" stroke-width="1.1" /><line x1="248.1" y1="437.1" x2="291.1" y2="437.1" stroke="#333" stroke-width="1.5" /><circle cx="250.0" cy="437.1" r="1.1" stroke="#111" stroke-width="0" fill="#111" /><circle cx="252.0" cy="437.1" r="1.1" stroke="#111" stroke-width="0" fill="#111" /><circle cx="287.2" cy="437.1" r="1.1" stroke="#111" stroke-width="0" fill="#111" /><circle cx="289.2" cy="437.1" r="1.1" stroke="#111" stroke-width="0" fill="#111" /><path d="M249.0,460.5 V421 Q249.0,418.8 251.5,418.8 H287.5 Q289.9,418.8 289.9,421 V460.5" stroke="#222" stroke-width="1.0" fill="none" stroke-dasharray="1.1 1.2"/><path d="M251.00,436 C251.00,429 259.32,419.80 269.50,419.80 C279.68,419.80 288.00,429 288.00,436" stroke="#222" stroke-width="1.05" fill="none" stroke-dasharray="1.1 1.2"/><path d="M254.00,436 C254.00,429 260.98,422.30 269.50,422.30 C278.02,422.30 285.00,429 285.00,436" stroke="#222" stroke-width="1.05" fill="none" stroke-dasharray="1.1 1.2"/><path d="M257.00,436 C257.00,429 262.62,425.00 269.50,425.00 C276.38,425.00 282.00,429 282.00,436" stroke="#222" stroke-width="1.05" fill="none" stroke-dasharray="1.1 1.2"/><path d="M253.5,439 Q251.5,450 257.0,462" stroke="#111" stroke-width="1.7" fill="none" stroke-dasharray="1.5 0.9"/><path d="M250.2,440 Q249.5,452 254.0,462" stroke="#222" stroke-width="1.4" fill="none" stroke-dasharray="1.2 1"/><path d="M255.8,441 Q254.5,452 258.5,460" stroke="#333" stroke-width="1.2" fill="none" stroke-dasharray="1 1.1"/><circle cx="252.0" cy="444" r="0.9" stroke="#111" stroke-width="0" fill="#111" /><circle cx="253.0" cy="448" r="0.9" stroke="#111" stroke-width="0" fill="#111" /><circle cx="251.0" cy="452" r="0.9" stroke="#111" stroke-width="0" fill="#111" /><circle cx="254.0" cy="456" r="0.9" stroke="#111" stroke-width="0" fill="#111" /><path d="M285.5,439 Q287.5,450 282.0,462" stroke="#111" stroke-width="1.7" fill="none" stroke-dasharray="1.5 0.9"/><path d="M288.8,440 Q289.5,452 285.0,462" stroke="#222" stroke-width="1.4" fill="none" stroke-dasharray="1.2 1"/><path d="M283.2,441 Q284.5,452 280.5,460" stroke="#333" stroke-width="1.2" fill="none" stroke-dasharray="1 1.1"/><circle cx="287.0" cy="444" r="0.9" stroke="#111" stroke-width="0" fill="#111" /><circle cx="286.0" cy="448" r="0.9" stroke="#111" stroke-width="0" fill="#111" /><circle cx="288.0" cy="452" r="0.9" stroke="#111" stroke-width="0" fill="#111" /><circle cx="285.0" cy="456" r="0.9" stroke="#111" stroke-width="0" fill="#111" /><path d="M257.3,462.5 L258.7,467.4 H280.1 L281.7,462.5" stroke="#222" stroke-width="1.0" fill="none" stroke-dasharray="1.1 1.2"/><line x1="258.7" y1="467.2" x2="280.1" y2="467.2" stroke="#111" stroke-width="1.8" stroke-dasharray="1.5 1.5"/><line x1="260.5" y1="464.5" x2="278.5" y2="464.5" stroke="#444" stroke-width="0.8" stroke-dasharray="1.1 1.2"/><line x1="333.4" y1="415.9" x2="333.4" y2="458.2" stroke="#111" stroke-width="1.1" /><line x1="312.0" y1="437.1" x2="355.0" y2="437.1" stroke="#333" stroke-width="1.5" /><circle cx="313.9" cy="437.1" r="1.1" stroke="#111" stroke-width="0" fill="#111" /><circle cx="315.9" cy="437.1" r="1.1" stroke="#111" stroke-width="0" fill="#111" /><circle cx="351.09999999999997" cy="437.1" r="1.1" stroke="#111" stroke-width="0" fill="#111" /><circle cx="353.09999999999997" cy="437.1" r="1.1" stroke="#111" stroke-width="0" fill="#111" /><path d="M312.9,460.5 V421 Q312.9,418.8 315.4,418.8 H351.4 Q353.79999999999995,418.8 353.79999999999995,421 V460.5" stroke="#222" stroke-width="1.0" fill="none" stroke-dasharray="1.1 1.2"/><path d="M314.90,436 C314.90,429 323.22,419.80 333.40,419.80 C343.57,419.80 351.90,429 351.90,436" stroke="#222" stroke-width="1.05" fill="none" stroke-dasharray="1.1 1.2"/><path d="M317.90,436 C317.90,429 324.88,422.30 333.40,422.30 C341.92,422.30 348.90,429 348.90,436" stroke="#222" stroke-width="1.05" fill="none" stroke-dasharray="1.1 1.2"/><path d="M320.90,436 C320.90,429 326.52,425.00 333.40,425.00 C340.27,425.00 345.90,429 345.90,436" stroke="#222" stroke-width="1.05" fill="none" stroke-dasharray="1.1 1.2"/><path d="M317.4,439 Q315.4,450 320.9,462" stroke="#111" stroke-width="1.7" fill="none" stroke-dasharray="1.5 0.9"/><path d="M314.09999999999997,440 Q313.4,452 317.9,462" stroke="#222" stroke-width="1.4" fill="none" stroke-dasharray="1.2 1"/><path d="M319.7,441 Q318.4,452 322.4,460" stroke="#333" stroke-width="1.2" fill="none" stroke-dasharray="1 1.1"/><circle cx="315.9" cy="444" r="0.9" stroke="#111" stroke-width="0" fill="#111" /><circle cx="316.9" cy="448" r="0.9" stroke="#111" stroke-width="0" fill="#111" /><circle cx="314.9" cy="452" r="0.9" stroke="#111" stroke-width="0" fill="#111" /><circle cx="317.9" cy="456" r="0.9" stroke="#111" stroke-width="0" fill="#111" /><path d="M349.4,439 Q351.4,450 345.9,462" stroke="#111" stroke-width="1.7" fill="none" stroke-dasharray="1.5 0.9"/><path d="M352.7,440 Q353.4,452 348.9,462" stroke="#222" stroke-width="1.4" fill="none" stroke-dasharray="1.2 1"/><path d="M347.09999999999997,441 Q348.4,452 344.4,460" stroke="#333" stroke-width="1.2" fill="none" stroke-dasharray="1 1.1"/><circle cx="350.9" cy="444" r="0.9" stroke="#111" stroke-width="0" fill="#111" /><circle cx="349.9" cy="448" r="0.9" stroke="#111" stroke-width="0" fill="#111" /><circle cx="351.9" cy="452" r="0.9" stroke="#111" stroke-width="0" fill="#111" /><circle cx="348.9" cy="456" r="0.9" stroke="#111" stroke-width="0" fill="#111" /><path d="M321.2,462.5 L322.59999999999997,467.4 H344.0 L345.59999999999997,462.5" stroke="#222" stroke-width="1.0" fill="none" stroke-dasharray="1.1 1.2"/><line x1="322.59999999999997" y1="467.2" x2="344.0" y2="467.2" stroke="#111" stroke-width="1.8" stroke-dasharray="1.5 1.5"/><line x1="324.4" y1="464.5" x2="342.4" y2="464.5" stroke="#444" stroke-width="0.8" stroke-dasharray="1.1 1.2"/><line x1="166.6" y1="460.2" x2="183.3" y2="460.2" stroke="#111" stroke-width="1.0" /><line x1="166.6" y1="463" x2="191.6" y2="463" stroke="#111" stroke-width="1.0" /><line x1="224.20000000000002" y1="460.2" x2="249.0" y2="460.2" stroke="#111" stroke-width="1.0" /><line x1="216.0" y1="463" x2="257.3" y2="463" stroke="#111" stroke-width="1.0" /><line x1="289.9" y1="460.2" x2="312.9" y2="460.2" stroke="#111" stroke-width="1.0" /><line x1="281.7" y1="463" x2="321.2" y2="463" stroke="#111" stroke-width="1.0" /><line x1="353.8" y1="460.2" x2="357.8" y2="460.2" stroke="#111" stroke-width="1.0" /><line x1="345.6" y1="463" x2="390" y2="463" stroke="#111" stroke-width="0.9" /><line x1="357.8" y1="408.8" x2="402.8" y2="408.8" stroke="#111" stroke-width="0.8" /><line x1="355" y1="436.8" x2="372.2" y2="436.8" stroke="#111" stroke-width="0.9" /><line x1="372.2" y1="408.8" x2="372.2" y2="437" stroke="#111" stroke-width="0.8" /><line x1="390.2" y1="408.8" x2="390.2" y2="463" stroke="#111" stroke-width="0.8" /><line x1="320" y1="466.6" x2="402.8" y2="466.6" stroke="#111" stroke-width="0.8" /><line x1="402.8" y1="408.8" x2="402.8" y2="466.6" stroke="#111" stroke-width="0.8" /><path d="M573.3,496.8 L689.3,426.7 Q692.5,427 694.3,429.2 V459.3 L578.4,524.9 Z" stroke="#111" stroke-width="0" fill="#fff" /><line x1="573.3" y1="496.8" x2="689.3" y2="426.7" stroke="#111" stroke-width="1.1" /><line x1="575" y1="498.9" x2="691" y2="432.33" stroke="#111" stroke-width="1.0" /><line x1="580.9" y1="509.0" x2="694.3" y2="445.1" stroke="#000" stroke-width="1.8" /><line x1="578.4" y1="524.9" x2="694.3" y2="459.3" stroke="#111" stroke-width="1.1" /><path d="M689.3,426.7 Q692.5,427 694.3,429.2" stroke="#111" stroke-width="1.0" fill="none" /><line x1="692.8" y1="430.5" x2="692.8" y2="459.8" stroke="#111" stroke-width="0.9" /><line x1="694.3" y1="429.2" x2="694.3" y2="459.3" stroke="#111" stroke-width="1.2" /><line x1="574.2" y1="502.86" x2="597.6" y2="489.43" stroke="#111" stroke-width="0.9" /><polygon points="594.40,491.07 597.60,489.23 597.60,499.59 594.40,501.39" fill="#aaa" stroke="#111" stroke-width="1"/><line x1="619.2" y1="477.0362869198312" x2="619.2" y2="487.4182539682539" stroke="#111" stroke-width="1.1" /><circle cx="614.2" cy="483.2054852320675" r="2.1" stroke="#111" stroke-width="1.3" fill="none" /><path d="M620.70,477.84 Q625.20,478.84 626.70,482.89" stroke="#111" stroke-width="1.0" fill="none" /><line x1="619.2" y1="477.04" x2="642.6" y2="463.61" stroke="#111" stroke-width="0.9" /><polygon points="639.40,465.24 642.60,463.41 642.60,474.23 639.40,476.04" fill="#aaa" stroke="#111" stroke-width="1"/><line x1="664.2" y1="451.21350210970456" x2="664.2" y2="462.0611111111111" stroke="#111" stroke-width="1.1" /><circle cx="659.2" cy="457.3827004219409" r="2.1" stroke="#111" stroke-width="1.3" fill="none" /><path d="M665.70,452.01 Q670.20,453.01 671.70,457.53" stroke="#111" stroke-width="1.0" fill="none" /><line x1="664.2" y1="451.21" x2="687.6" y2="437.79" stroke="#111" stroke-width="0.9" /><line x1="687.6" y1="437.5856540084388" x2="687.6" y2="448.8753968253968" stroke="#111" stroke-width="1.3" /><circle cx="682.6" cy="456" r="2.6" stroke="#111" stroke-width="1.7" fill="none" /><path d="M571.5,496.5 Q577,498.5 578.5,506" stroke="#111" stroke-width="2.0" fill="none" /><path d="M573.5,500 Q577.5,502 578,508" stroke="#555" stroke-width="1.0" fill="none" /><polygon points="565.50,464.50 565.50,487.00 570.60,489.50 595.50,476.50 595.50,458.00" fill="url(#dots)"/><polygon points="554.00,453.00 554.00,479.00 565.50,486.00 565.50,462.00" fill="url(#dots2)"/><path d="M553.00,447.80 V479.40 L570.60,488.80 L595.20,475.90 V462.00" stroke="#222" stroke-width="1.05" fill="none" stroke-dasharray="1.1 1.2"/><path d="M548.30,486.40 L571.70,494.10 L596.40,479.40" stroke="#333" stroke-width="1.0" fill="none" stroke-dasharray="1.8 1.3"/><path d="M553.00,447.80 L558.30,450.70 L567.00,449.50 L572.30,453.60" stroke="#333" stroke-width="1.0" fill="none" stroke-dasharray="1.8 1.3"/><path d="M564.70,446.60 L584.00,434.90 L590.00,437.00" stroke="#333" stroke-width="1.0" fill="none" stroke-dasharray="1.8 1.3"/><line x1="558.3" y1="450.7" x2="558.3" y2="462.0" stroke="#333" stroke-width="1.0" stroke-dasharray="1.1 1.2"/><line x1="555.9" y1="464.2" x2="562.9" y2="467.4" stroke="#111" stroke-width="1.6" /><line x1="555.9" y1="467.59999999999997" x2="562.9" y2="470.79999999999995" stroke="#111" stroke-width="1.6" /><line x1="555.9" y1="471.0" x2="562.9" y2="474.2" stroke="#111" stroke-width="1.6" /><line x1="555.9" y1="474.4" x2="562.9" y2="477.59999999999997" stroke="#111" stroke-width="1.6" /><line x1="555.9" y1="477.8" x2="562.9" y2="481.0" stroke="#111" stroke-width="1.6" /><ellipse cx="586.30" cy="451.10" rx="7.8" ry="11" transform="rotate(32 586.30 451.10)" fill="url(#discdots)" stroke="#111" stroke-width="1.5" stroke-dasharray="1.6 1.1"/><ellipse cx="586.30" cy="451.10" rx="5.46" ry="7.92" transform="rotate(32 586.30 451.10)" fill="none" stroke="#222" stroke-width="1.5" stroke-dasharray="1.3 1.6"/><ellipse cx="586.30" cy="451.10" rx="3.12" ry="4.62" transform="rotate(32 586.30 451.10)" fill="none" stroke="#444" stroke-width="1.1" stroke-dasharray="1 1.4"/><circle cx="586.8" cy="451.1" r="0.8" stroke="#111" stroke-width="0" fill="#333" /><path d="M548.00,374.00 Q550.00,358.00 566.00,357.60 L570.20,357.80 L590.30,370.60" stroke="#333" stroke-width="1.0" fill="none" stroke-dasharray="1.8 1.3"/><path d="M558.00,370.00 Q560.00,360.00 567.00,359.60" stroke="#333" stroke-width="1.0" fill="none" stroke-dasharray="1.8 1.3"/><path d="M548.00,374.00 L552.00,380.20 L578.20,391.70" stroke="#333" stroke-width="1.0" fill="none" stroke-dasharray="1.8 1.3"/><path d="M551.00,372.00 L576.00,384.00" stroke="#333" stroke-width="1.0" fill="none" stroke-dasharray="1.1 1.2"/><line x1="555.0" y1="370.0" x2="558.0" y2="375.0" stroke="#111" stroke-width="1.5" /><line x1="565.0" y1="379.0" x2="568.0" y2="383.0" stroke="#111" stroke-width="1.5" /><ellipse cx="586.20" cy="382.20" rx="8" ry="11.8" transform="rotate(32 586.20 382.20)" fill="url(#discdots)" stroke="#111" stroke-width="1.5" stroke-dasharray="1.6 1.1"/><ellipse cx="586.20" cy="382.20" rx="5.6" ry="8.496" transform="rotate(32 586.20 382.20)" fill="none" stroke="#222" stroke-width="1.5" stroke-dasharray="1.3 1.6"/><ellipse cx="586.20" cy="382.20" rx="3.2" ry="4.956" transform="rotate(32 586.20 382.20)" fill="none" stroke="#444" stroke-width="1.1" stroke-dasharray="1 1.4"/><circle cx="586.7" cy="382.2" r="0.8" stroke="#111" stroke-width="0" fill="#333" /><line x1="548.0" y1="374.0" x2="548.0" y2="470" stroke="#222" stroke-width="1.05" stroke-dasharray="1.1 1.2"/><line x1="584.7" y1="394.5" x2="584.7" y2="434.8" stroke="#222" stroke-width="1.05" stroke-dasharray="1.1 1.2"/><polygon points="611.70,438.00 611.70,460.50 616.80,463.00 641.70,450.00 641.70,431.50" fill="url(#dots)"/><polygon points="600.20,426.50 600.20,452.50 611.70,459.50 611.70,435.50" fill="url(#dots2)"/><path d="M599.20,421.30 V452.90 L616.80,462.30 L641.40,449.40 V435.50" stroke="#222" stroke-width="1.05" fill="none" stroke-dasharray="1.1 1.2"/><path d="M594.50,459.90 L617.90,467.60 L642.60,452.90" stroke="#333" stroke-width="1.0" fill="none" stroke-dasharray="1.8 1.3"/><path d="M599.20,421.30 L604.50,424.20 L613.20,423.00 L618.50,427.10" stroke="#333" stroke-width="1.0" fill="none" stroke-dasharray="1.8 1.3"/><path d="M610.90,420.10 L630.20,408.40 L636.20,410.50" stroke="#333" stroke-width="1.0" fill="none" stroke-dasharray="1.8 1.3"/><line x1="604.5" y1="424.2" x2="604.5" y2="435.5" stroke="#333" stroke-width="1.0" stroke-dasharray="1.1 1.2"/><line x1="602.1" y1="437.7" x2="609.1" y2="440.9" stroke="#111" stroke-width="1.6" /><line x1="602.1" y1="441.09999999999997" x2="609.1" y2="444.29999999999995" stroke="#111" stroke-width="1.6" /><line x1="602.1" y1="444.5" x2="609.1" y2="447.7" stroke="#111" stroke-width="1.6" /><line x1="602.1" y1="447.9" x2="609.1" y2="451.09999999999997" stroke="#111" stroke-width="1.6" /><line x1="602.1" y1="451.3" x2="609.1" y2="454.5" stroke="#111" stroke-width="1.6" /><ellipse cx="632.50" cy="424.60" rx="7.8" ry="11" transform="rotate(32 632.50 424.60)" fill="url(#discdots)" stroke="#111" stroke-width="1.5" stroke-dasharray="1.6 1.1"/><ellipse cx="632.50" cy="424.60" rx="5.46" ry="7.92" transform="rotate(32 632.50 424.60)" fill="none" stroke="#222" stroke-width="1.5" stroke-dasharray="1.3 1.6"/><ellipse cx="632.50" cy="424.60" rx="3.12" ry="4.62" transform="rotate(32 632.50 424.60)" fill="none" stroke="#444" stroke-width="1.1" stroke-dasharray="1 1.4"/><circle cx="633.0" cy="424.6" r="0.8" stroke="#111" stroke-width="0" fill="#333" /><path d="M594.20,347.50 Q596.20,331.50 612.20,331.10 L616.40,331.30 L636.50,344.10" stroke="#333" stroke-width="1.0" fill="none" stroke-dasharray="1.8 1.3"/><path d="M604.20,343.50 Q606.20,333.50 613.20,333.10" stroke="#333" stroke-width="1.0" fill="none" stroke-dasharray="1.8 1.3"/><path d="M594.20,347.50 L598.20,353.70 L624.40,365.20" stroke="#333" stroke-width="1.0" fill="none" stroke-dasharray="1.8 1.3"/><path d="M597.20,345.50 L622.20,357.50" stroke="#333" stroke-width="1.0" fill="none" stroke-dasharray="1.1 1.2"/><line x1="601.2" y1="343.5" x2="604.2" y2="348.5" stroke="#111" stroke-width="1.5" /><line x1="611.2" y1="352.5" x2="614.2" y2="356.5" stroke="#111" stroke-width="1.5" /><ellipse cx="632.40" cy="355.70" rx="8" ry="11.8" transform="rotate(32 632.40 355.70)" fill="url(#discdots)" stroke="#111" stroke-width="1.5" stroke-dasharray="1.6 1.1"/><ellipse cx="632.40" cy="355.70" rx="5.6" ry="8.496" transform="rotate(32 632.40 355.70)" fill="none" stroke="#222" stroke-width="1.5" stroke-dasharray="1.3 1.6"/><ellipse cx="632.40" cy="355.70" rx="3.2" ry="4.956" transform="rotate(32 632.40 355.70)" fill="none" stroke="#444" stroke-width="1.1" stroke-dasharray="1 1.4"/><circle cx="632.9000000000001" cy="355.7" r="0.8" stroke="#111" stroke-width="0" fill="#333" /><line x1="594.2" y1="347.5" x2="594.2" y2="442.4" stroke="#222" stroke-width="1.05" stroke-dasharray="1.1 1.2"/><line x1="630.9000000000001" y1="368.0" x2="630.9000000000001" y2="408.3" stroke="#222" stroke-width="1.05" stroke-dasharray="1.1 1.2"/><polygon points="657.90,411.50 657.90,434.00 663.00,436.50 687.90,423.50 687.90,405.00" fill="url(#dots)"/><polygon points="646.40,400.00 646.40,426.00 657.90,433.00 657.90,409.00" fill="url(#dots2)"/><path d="M645.40,394.80 V426.40 L663.00,435.80 L687.60,422.90 V409.00" stroke="#222" stroke-width="1.05" fill="none" stroke-dasharray="1.1 1.2"/><path d="M640.70,433.40 L664.10,441.10 L688.80,426.40" stroke="#333" stroke-width="1.0" fill="none" stroke-dasharray="1.8 1.3"/><path d="M645.40,394.80 L650.70,397.70 L659.40,396.50 L664.70,400.60" stroke="#333" stroke-width="1.0" fill="none" stroke-dasharray="1.8 1.3"/><path d="M657.10,393.60 L676.40,381.90 L682.40,384.00" stroke="#333" stroke-width="1.0" fill="none" stroke-dasharray="1.8 1.3"/><line x1="650.6999999999999" y1="397.7" x2="650.6999999999999" y2="409.0" stroke="#333" stroke-width="1.0" stroke-dasharray="1.1 1.2"/><line x1="648.3" y1="411.2" x2="655.3" y2="414.4" stroke="#111" stroke-width="1.6" /><line x1="648.3" y1="414.59999999999997" x2="655.3" y2="417.79999999999995" stroke="#111" stroke-width="1.6" /><line x1="648.3" y1="418.0" x2="655.3" y2="421.2" stroke="#111" stroke-width="1.6" /><line x1="648.3" y1="421.4" x2="655.3" y2="424.59999999999997" stroke="#111" stroke-width="1.6" /><line x1="648.3" y1="424.8" x2="655.3" y2="428.0" stroke="#111" stroke-width="1.6" /><ellipse cx="678.70" cy="398.10" rx="7.8" ry="11" transform="rotate(32 678.70 398.10)" fill="url(#discdots)" stroke="#111" stroke-width="1.5" stroke-dasharray="1.6 1.1"/><ellipse cx="678.70" cy="398.10" rx="5.46" ry="7.92" transform="rotate(32 678.70 398.10)" fill="none" stroke="#222" stroke-width="1.5" stroke-dasharray="1.3 1.6"/><ellipse cx="678.70" cy="398.10" rx="3.12" ry="4.62" transform="rotate(32 678.70 398.10)" fill="none" stroke="#444" stroke-width="1.1" stroke-dasharray="1 1.4"/><circle cx="679.1999999999999" cy="398.1" r="0.8" stroke="#111" stroke-width="0" fill="#333" /><path d="M640.40,321.00 Q642.40,305.00 658.40,304.60 L662.60,304.80 L682.70,317.60" stroke="#333" stroke-width="1.0" fill="none" stroke-dasharray="1.8 1.3"/><path d="M650.40,317.00 Q652.40,307.00 659.40,306.60" stroke="#333" stroke-width="1.0" fill="none" stroke-dasharray="1.8 1.3"/><path d="M640.40,321.00 L644.40,327.20 L670.60,338.70" stroke="#333" stroke-width="1.0" fill="none" stroke-dasharray="1.8 1.3"/><path d="M643.40,319.00 L668.40,331.00" stroke="#333" stroke-width="1.0" fill="none" stroke-dasharray="1.1 1.2"/><line x1="647.4" y1="317.0" x2="650.4" y2="322.0" stroke="#111" stroke-width="1.5" /><line x1="657.4" y1="326.0" x2="660.4" y2="330.0" stroke="#111" stroke-width="1.5" /><ellipse cx="678.60" cy="329.20" rx="8" ry="11.8" transform="rotate(32 678.60 329.20)" fill="url(#discdots)" stroke="#111" stroke-width="1.5" stroke-dasharray="1.6 1.1"/><ellipse cx="678.60" cy="329.20" rx="5.6" ry="8.496" transform="rotate(32 678.60 329.20)" fill="none" stroke="#222" stroke-width="1.5" stroke-dasharray="1.3 1.6"/><ellipse cx="678.60" cy="329.20" rx="3.2" ry="4.956" transform="rotate(32 678.60 329.20)" fill="none" stroke="#444" stroke-width="1.1" stroke-dasharray="1 1.4"/><circle cx="679.1" cy="329.2" r="0.8" stroke="#111" stroke-width="0" fill="#333" /><line x1="640.4" y1="321.0" x2="640.4" y2="415.9" stroke="#222" stroke-width="1.05" stroke-dasharray="1.1 1.2"/><line x1="677.1" y1="341.5" x2="677.1" y2="381.8" stroke="#222" stroke-width="1.05" stroke-dasharray="1.1 1.2"/><line x1="667" y1="314.8" x2="745" y2="314.8" stroke="#222" stroke-width="1.4" stroke-dasharray="1.6 1.1"/><text x="745.44" y="318.20" font-size="11.17" textLength="8.12" lengthAdjust="spacingAndGlyphs" fill="#1a1a1a" stroke="#1a1a1a" stroke-width="0.25">A</text><path d="M458.4,416.4 L460.8,414.7 L488.3,399.6 L569.2,445.5 L538.8,461.6 Z" stroke="#111" stroke-width="1.2" fill="#fff" /><path d="M458.4,416.4 L538.8,461.6 V572.2 L458.3,527 Z" stroke="#111" stroke-width="1.1" fill="#fff" /><path d="M538.5,462.3 L569.2,445.5 V498.6 L578.1,509.2 V546.7 L538.5,571.8 Z" stroke="#111" stroke-width="1.2" fill="#fff" /><line x1="538.5" y1="461.5" x2="538.5" y2="572" stroke="#111" stroke-width="2.2" /><line x1="538.5" y1="571.8" x2="578.1" y2="546.7" stroke="#111" stroke-width="1.9" /><line x1="569.2" y1="445.5" x2="569.2" y2="498.6" stroke="#111" stroke-width="1.0" /><line x1="458.4" y1="418.2" x2="538.5" y2="463.6" stroke="#333" stroke-width="0.8" /><path d="M466.1,428.2 L527,462.2" stroke="#777" stroke-width="1.6" fill="none" /><path d="M466.1,428.2 L527.5,463" stroke="#111" stroke-width="0.6" fill="none" /><path d="M464.3,449 Q463.5,436 466.1,428.2" stroke="#111" stroke-width="0.9" fill="none" /><path d="M464.3,449 V530 L528.4,566" stroke="#111" stroke-width="0.9" fill="none" /><path d="M527,462.2 Q529,470 528.4,480 V566 L538.5,572" stroke="#111" stroke-width="0.9" fill="none" /><line x1="524.7" y1="462" x2="524.7" y2="556.4" stroke="#111" stroke-width="0.9" /><line x1="459.8" y1="418" x2="459.8" y2="527.5" stroke="#555" stroke-width="0.6" /><line x1="512.5" y1="443" x2="521.4" y2="439.1" stroke="#111" stroke-width="1.6" /><line x1="527.1" y1="436" x2="536" y2="430.2" stroke="#111" stroke-width="1.6" /><ellipse cx="552.6" cy="439.8" rx="3" ry="2" fill="none" stroke="#222" stroke-width="0.9"/><circle cx="536" cy="446.1" r="0.9" stroke="#111" stroke-width="0" fill="#333" /><circle cx="559" cy="444.2" r="0.9" stroke="#111" stroke-width="0" fill="#333" /><line x1="539.9" y1="460.2" x2="551.3" y2="455.7" stroke="#111" stroke-width="2.0" /><line x1="555" y1="453" x2="564" y2="447.5" stroke="#111" stroke-width="2.0" /><polygon points="463.7,407.7 463.7,415.6 506.6,439.2 506.6,429.6" fill="url(#isofins)" stroke="#111" stroke-width="0.9"/><path d="M463.7,407.7 Q465,401 475.5,398.1 L520.1,422.6 L506.6,429.6 Z" fill="#7a7a7a" stroke="#111" stroke-width="0.9"/><line x1="466.34" y1="406.63" x2="508.1" y2="428.82" stroke="#111" stroke-width="0.7" /><line x1="467.49" y1="405.57" x2="509.6" y2="428.04" stroke="#888" stroke-width="0.7" /><line x1="468.63" y1="404.5" x2="511.1" y2="427.27" stroke="#111" stroke-width="0.7" /><line x1="469.78" y1="403.43" x2="512.6" y2="426.49" stroke="#888" stroke-width="0.7" /><line x1="470.92" y1="402.37" x2="514.1" y2="425.71" stroke="#111" stroke-width="0.7" /><line x1="472.07" y1="401.3" x2="515.6" y2="424.93" stroke="#888" stroke-width="0.7" /><line x1="473.21" y1="400.23" x2="517.1" y2="424.16" stroke="#111" stroke-width="0.7" /><line x1="474.36" y1="399.17" x2="518.6" y2="423.38" stroke="#888" stroke-width="0.7" /><path d="M506.6,429.6 L518.5,423.2 Q520.6,423.5 520.6,426 V431.5 L506.6,439.2 Z" fill="#fff" stroke="#111" stroke-width="1"/><polygon points="483,402.5 486,401 487.5,403.5" fill="#111"/><circle cx="504.6" cy="413" r="0.9" stroke="#111" stroke-width="0" fill="#bbb" /><circle cx="510.4" cy="415.5" r="0.9" stroke="#111" stroke-width="0" fill="#bbb" /><circle cx="514.6" cy="418.7" r="0.9" stroke="#111" stroke-width="0" fill="#bbb" /><g transform="matrix(0.711 0.396 0 0.822 88.61 146.01)"><line x1="528.4" y1="114.4" x2="613.3" y2="114.4" stroke="#111" stroke-width="1.3" vector-effect="non-scaling-stroke"/><path d="M528.4,135.2 H558.5 V202 H582.6 V135.2 H613.3" stroke="#111" stroke-width="1.3" fill="none" vector-effect="non-scaling-stroke"/><line x1="528.4" y1="203.6" x2="613.3" y2="203.6" stroke="#333" stroke-width="0.9" vector-effect="non-scaling-stroke"/><rect x="544" y="119" width="12.7" height="11" stroke="#333" stroke-width="1.1" fill="none" vector-effect="non-scaling-stroke"/><line x1="550.3" y1="121.5" x2="550.3" y2="128.5" stroke="#111" stroke-width="1.4" vector-effect="non-scaling-stroke"/><rect x="585" y="119" width="13" height="11" stroke="#333" stroke-width="1.1" fill="none" vector-effect="non-scaling-stroke"/><circle cx="591.5" cy="124.5" r="2.3" stroke="#111" stroke-width="1.3" fill="none" vector-effect="non-scaling-stroke"/><rect x="562" y="173.2" width="6" height="27.6" stroke="#111" stroke-width="1.0" fill="none" rx="3" vector-effect="non-scaling-stroke"/><path d="M563,178 L567,190 L563,198" stroke="#111" stroke-width="0.7" fill="none" vector-effect="non-scaling-stroke"/><rect x="545.3" y="181.3" width="9.4" height="5.4" stroke="#111" stroke-width="1.2" fill="none" vector-effect="non-scaling-stroke"/><rect x="586.5" y="181.3" width="9.5" height="5.4" stroke="#111" stroke-width="1.2" fill="none" vector-effect="non-scaling-stroke"/><rect x="588.2" y="165.6" width="6.5" height="3" stroke="#333" stroke-width="1.4" fill="none" rx="1" vector-effect="non-scaling-stroke"/></g><ellipse cx="550.60" cy="522.10" rx="3" ry="4.6" transform="rotate(20 550.60 522.10)" fill="none" stroke="#111" stroke-width="1.2" stroke-dasharray="none"/><ellipse cx="564.50" cy="525.60" rx="4.3" ry="6" transform="rotate(20 564.50 525.60)" fill="none" stroke="#111" stroke-width="1.2" stroke-dasharray="none"/><ellipse cx="559.50" cy="495.10" rx="2.4" ry="3" transform="rotate(20 559.50 495.10)" fill="none" stroke="#111" stroke-width="1.2" stroke-dasharray="none"/><ellipse cx="554.60" cy="511.50" rx="1.8" ry="2.3" transform="rotate(0 554.60 511.50)" fill="none" stroke="#111" stroke-width="1.2" stroke-dasharray="none"/><ellipse cx="560.30" cy="458.20" rx="2" ry="3.2" transform="rotate(25 560.30 458.20)" fill="none" stroke="#111" stroke-width="1.1" stroke-dasharray="none"/><circle cx="548" cy="483" r="0.85" stroke="#111" stroke-width="0" fill="#222" /><circle cx="553" cy="479" r="0.85" stroke="#111" stroke-width="0" fill="#222" /><circle cx="549" cy="496" r="0.85" stroke="#111" stroke-width="0" fill="#222" /><circle cx="542.5" cy="510" r="0.85" stroke="#111" stroke-width="0" fill="#222" /><circle cx="546.4" cy="509.2" r="0.85" stroke="#111" stroke-width="0" fill="#222" /><circle cx="541" cy="520" r="0.85" stroke="#111" stroke-width="0" fill="#222" /><circle cx="559.5" cy="517" r="0.85" stroke="#111" stroke-width="0" fill="#222" /><circle cx="567" cy="534" r="0.85" stroke="#111" stroke-width="0" fill="#222" /><circle cx="544.7" cy="548" r="0.85" stroke="#111" stroke-width="0" fill="#222" /><circle cx="555.6" cy="551" r="0.85" stroke="#111" stroke-width="0" fill="#222" /><circle cx="548" cy="494" r="0.85" stroke="#111" stroke-width="0" fill="#222" /><circle cx="557" cy="491" r="0.85" stroke="#111" stroke-width="0" fill="#222" /><circle cx="562" cy="533" r="0.85" stroke="#111" stroke-width="0" fill="#222" /><circle cx="541" cy="502" r="0.85" stroke="#111" stroke-width="0" fill="#222" /><polygon points="107.8,35.2 110.7,34.2 110.7,36.2" fill="#222"/><polygon points="202.7,35.2 199.8,34.2 199.8,36.2" fill="#222"/><polygon points="203.3,35.2 206.2,34.2 206.2,36.2" fill="#222"/><polygon points="268.2,35.2 265.3,34.2 265.3,36.2" fill="#222"/><polygon points="268.8,35.2 271.7,34.2 271.7,36.2" fill="#222"/><polygon points="332.09999999999997,35.2 329.2,34.2 329.2,36.2" fill="#222"/><polygon points="107.8,53.3 110.7,52.3 110.7,54.3" fill="#222"/><polygon points="163.2,53.3 160.3,52.3 160.3,54.3" fill="#222"/><polygon points="107.8,73.4 110.7,72.4 110.7,74.4" fill="#222"/><polygon points="152.0,73.4 149.10000000000002,72.4 149.10000000000002,74.4" fill="#222"/><polygon points="107.6,269.3 110.5,268.3 110.5,270.3" fill="#222"/><polygon points="131.2,269.3 128.3,268.3 128.3,270.3" fill="#222"/><polygon points="131.8,269.3 134.7,268.3 134.7,270.3" fill="#222"/><polygon points="176.0,269.3 173.10000000000002,268.3 173.10000000000002,270.3" fill="#222"/><polygon points="176.60000000000002,269.5 179.5,268.5 179.5,270.5" fill="#222"/><polygon points="304.09999999999997,269.5 301.2,268.5 301.2,270.5" fill="#222"/><polygon points="107.6,287.6 110.5,286.6 110.5,288.6" fill="#222"/><polygon points="357.2,287.6 354.3,286.6 354.3,288.6" fill="#222"/><polygon points="101.89999999999999,304.2 104.8,303.2 104.8,305.2" fill="#222"/><polygon points="357.2,304.2 354.3,303.2 354.3,305.2" fill="#222"/><polygon points="552.8,244.4 555.7,243.4 555.7,245.4" fill="#222"/><polygon points="588.2,244.4 585.3,243.4 585.3,245.4" fill="#222"/><polygon points="533.3,269 536.2,268 536.2,270" fill="#222"/><polygon points="608.7,269 605.8,268 605.8,270" fill="#222"/><polygon points="514.5,290 517.4000000000001,289 517.4000000000001,291" fill="#222"/><polygon points="627.2,290 624.3,289 624.3,291" fill="#222"/><polygon points="89.8,101.89999999999999 88.8,104.8 90.8,104.8" fill="#222"/><polygon points="89.8,234.5 88.8,231.60000000000002 90.8,231.60000000000002" fill="#222"/><polygon points="373.3,199.3 372.3,202.2 374.3,202.2" fill="#222"/><polygon points="373.3,234.7 372.3,231.8 374.3,231.8" fill="#222"/><polygon points="372.2,409.1 371.2,412.0 373.2,412.0" fill="#222"/><polygon points="372.2,436.5 371.2,433.6 373.2,433.6" fill="#222"/><polygon points="390.2,409.1 389.2,412.0 391.2,412.0" fill="#222"/><polygon points="390.2,462.7 389.2,459.8 391.2,459.8" fill="#222"/><polygon points="402.8,409.1 401.8,412.0 403.8,412.0" fill="#222"/><polygon points="402.8,466.3 401.8,463.40000000000003 403.8,463.40000000000003" fill="#222"/><text x="144.48" y="32.80" font-size="10.47" textLength="21.35" lengthAdjust="spacingAndGlyphs" fill="#1a1a1a" stroke="#1a1a1a" stroke-width="0.25">316</text><text x="225.48" y="32.80" font-size="10.47" textLength="20.95" lengthAdjust="spacingAndGlyphs" fill="#1a1a1a" stroke="#1a1a1a" stroke-width="0.25">210</text><text x="290.69" y="32.90" font-size="10.20" textLength="20.52" lengthAdjust="spacingAndGlyphs" fill="#1a1a1a" stroke="#1a1a1a" stroke-width="0.25">525</text><text x="124.76" y="52.10" font-size="10.89" textLength="19.89" lengthAdjust="spacingAndGlyphs" fill="#1a1a1a" stroke="#1a1a1a" stroke-width="0.25">190</text><text x="119.75" y="72.20" font-size="11.03" textLength="19.20" lengthAdjust="spacingAndGlyphs" fill="#1a1a1a" stroke="#1a1a1a" stroke-width="0.25">150</text><text x="0" y="0" font-size="11.59" textLength="19.96" lengthAdjust="spacingAndGlyphs" transform="translate(85.90 175.68) rotate(-90)" fill="#1a1a1a" stroke="#1a1a1a" stroke-width="0.25">440</text><text x="0" y="0" font-size="11.87" textLength="18.79" lengthAdjust="spacingAndGlyphs" transform="translate(371.90 226.49) rotate(-90)" fill="#1a1a1a" stroke="#1a1a1a" stroke-width="0.25">120</text><text x="111.87" y="267.80" font-size="10.61" textLength="13.26" lengthAdjust="spacingAndGlyphs" fill="#1a1a1a" stroke="#1a1a1a" stroke-width="0.25">70</text><text x="143.77" y="267.80" font-size="10.61" textLength="19.06" lengthAdjust="spacingAndGlyphs" fill="#1a1a1a" stroke="#1a1a1a" stroke-width="0.25">155</text><text x="227.46" y="268.10" font-size="10.89" textLength="20.89" lengthAdjust="spacingAndGlyphs" fill="#1a1a1a" stroke="#1a1a1a" stroke-width="0.25">420</text><text x="221.37" y="286.00" font-size="10.61" textLength="20.56" lengthAdjust="spacingAndGlyphs" fill="#1a1a1a" stroke="#1a1a1a" stroke-width="0.25">820</text><text x="221.46" y="303.30" font-size="10.89" textLength="20.09" lengthAdjust="spacingAndGlyphs" fill="#1a1a1a" stroke="#1a1a1a" stroke-width="0.25">840</text><text x="16.98" y="251.00" font-size="10.40" textLength="33.04" lengthAdjust="spacingAndGlyphs" fill="#1a1a1a" stroke="#1a1a1a" stroke-width="0.25">2-M12(</text><use href="#wei" transform="translate(50 243) scale(0.750 0.900)" stroke-width="1.15"/><use href="#zhi" transform="translate(59 243) scale(0.900 0.900)" stroke-width="1.06"/><text x="69.48" y="251.00" font-size="10.40" textLength="12.84" lengthAdjust="spacingAndGlyphs" fill="#1a1a1a" stroke="#1a1a1a" stroke-width="0.25">1)</text><text x="212.98" y="247.00" font-size="10.40" textLength="34.54" lengthAdjust="spacingAndGlyphs" fill="#1a1a1a" stroke="#1a1a1a" stroke-width="0.25">4-M12(</text><use href="#wei" transform="translate(247.5 239.2) scale(0.800 0.900)" stroke-width="1.12"/><use href="#zhi" transform="translate(257 239.2) scale(0.900 0.900)" stroke-width="1.06"/><text x="266.48" y="247.00" font-size="10.40" textLength="11.54" lengthAdjust="spacingAndGlyphs" fill="#1a1a1a" stroke="#1a1a1a" stroke-width="0.25">2)</text><text x="562.43" y="232.00" font-size="11.45" textLength="17.75" lengthAdjust="spacingAndGlyphs" fill="#1a1a1a" stroke="#1a1a1a" stroke-width="0.25">120</text><text x="553.90" y="240.90" font-size="10.00" textLength="3.60" lengthAdjust="spacingAndGlyphs" fill="#1a1a1a" stroke="#1a1a1a" stroke-width="0.25">(</text><use href="#wei" transform="translate(557.2 231.8) scale(0.870 0.900)" stroke-width="1.07"/><use href="#zhi" transform="translate(569 231.8) scale(0.800 0.900)" stroke-width="1.12"/><text x="578.20" y="240.20" font-size="10.00" textLength="9.80" lengthAdjust="spacingAndGlyphs" fill="#1a1a1a" stroke="#1a1a1a" stroke-width="0.25">2)</text><text x="545.21" y="265.40" font-size="9.80" textLength="21.28" lengthAdjust="spacingAndGlyphs" fill="#1a1a1a" stroke="#1a1a1a" stroke-width="0.25">248(</text><use href="#wei" transform="translate(568 257.6) scale(0.780 0.860)" stroke-width="1.16"/><use href="#zhi" transform="translate(578.2 257.6) scale(0.980 0.860)" stroke-width="1.03"/><text x="589.11" y="265.40" font-size="9.80" textLength="8.38" lengthAdjust="spacingAndGlyphs" fill="#1a1a1a" stroke="#1a1a1a" stroke-width="0.25">1)</text><text x="561.95" y="288.60" font-size="9.08" textLength="17.51" lengthAdjust="spacingAndGlyphs" fill="#1a1a1a" stroke="#1a1a1a" stroke-width="0.25">370</text><text x="0" y="0" font-size="11.31" textLength="14.13" lengthAdjust="spacingAndGlyphs" transform="translate(370.60 430.17) rotate(-90)" fill="#1a1a1a" stroke="#1a1a1a" stroke-width="0.25">90</text><text x="0" y="0" font-size="12.01" textLength="18.30" lengthAdjust="spacingAndGlyphs" transform="translate(388.20 444.30) rotate(-90)" fill="#1a1a1a" stroke="#1a1a1a" stroke-width="0.25">180</text><text x="0" y="0" font-size="12.57" textLength="29.46" lengthAdjust="spacingAndGlyphs" transform="translate(401.20 451.93) rotate(-90)" fill="#1a1a1a" stroke="#1a1a1a" stroke-width="0.25">201.5</text>
</svg></body></html>
